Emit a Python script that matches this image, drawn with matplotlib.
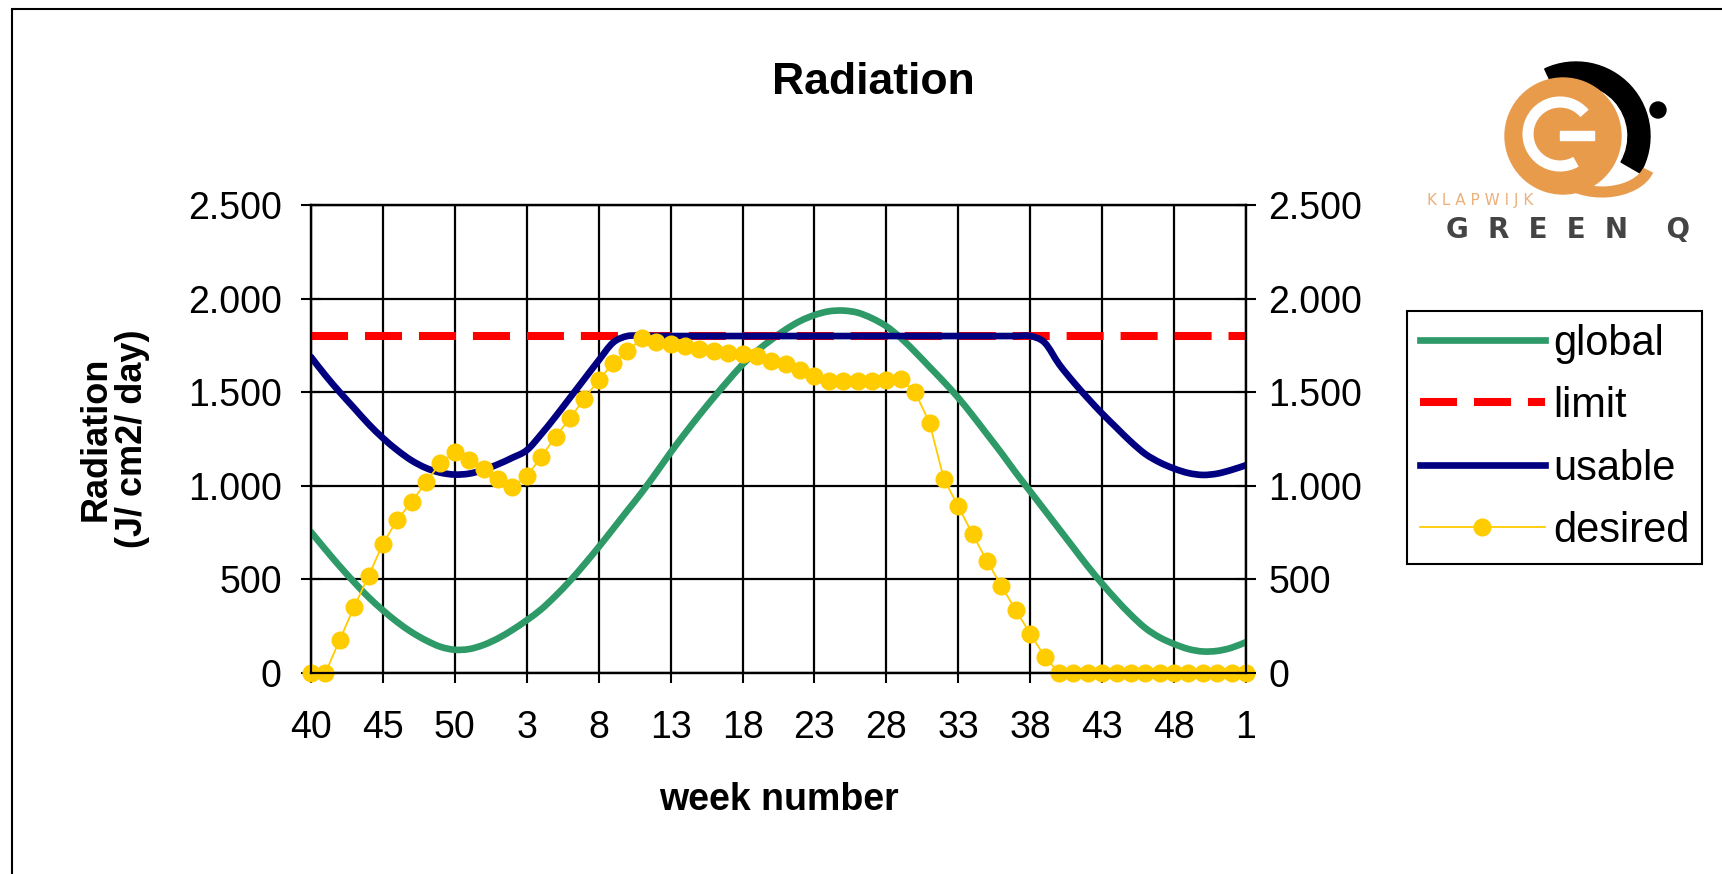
import numpy as np
import matplotlib
matplotlib.use("Agg")
import matplotlib.pyplot as plt
from matplotlib.patches import Circle, Wedge, Rectangle, Arc, PathPatch
from matplotlib.path import Path
from matplotlib.ticker import FuncFormatter

plt.rcParams['font.family'] = ['Liberation Sans', 'DejaVu Sans']

# week numbers, from week 40 through the next year to week 1
weeks = list(range(40, 53)) + list(range(1, 53)) + [1]

global_rad = [753, 660, 570, 485, 405, 335, 272, 218, 174, 140,
              124, 128, 150, 185, 230, 282, 340, 412, 492, 580,
              673, 770, 868, 965, 1070, 1178, 1280, 1378, 1472, 1562,
              1648, 1720, 1780, 1835, 1880, 1912, 1932, 1936, 1925, 1895,
              1852, 1790, 1715, 1635, 1555, 1470, 1375, 1275, 1175, 1070,
              970, 870, 770, 670, 570, 477, 390, 310, 240, 190,
              155, 128, 115, 118, 135, 165]

limit_value = 1800
limit = [limit_value] * len(weeks)

usable = [1688, 1590, 1500, 1415, 1330, 1255, 1190, 1135, 1095, 1070,
          1060, 1065, 1085, 1115, 1150, 1190, 1275, 1370, 1470, 1570,
          1670, 1765, 1800, 1800, 1800, 1800, 1800, 1800, 1800, 1800,
          1800, 1800, 1800, 1800, 1800, 1800, 1800, 1800, 1800, 1800,
          1800, 1800, 1800, 1800, 1800, 1800, 1800, 1800, 1800, 1800,
          1800, 1765, 1650, 1555, 1468, 1386, 1310, 1235, 1170, 1125,
          1092, 1068, 1058, 1065, 1085, 1110]

desired = [0, 0, 178, 353, 518, 691, 819, 914, 1020, 1122,
           1181, 1136, 1092, 1038, 994, 1051, 1154, 1262, 1360, 1466,
           1564, 1655, 1720, 1788, 1770, 1760, 1748, 1732, 1722, 1712,
           1704, 1695, 1668, 1648, 1620, 1585, 1562, 1560, 1560, 1560,
           1565, 1570, 1500, 1336, 1035, 890, 740, 598, 465, 335,
           210, 88, 0, 0, 0, 0, 0, 0, 0, 0,
           0, 0, 0, 0, 0, 0]

yticks = [0, 500, 1000, 1500, 2000, 2500]


# smoothed line like the spreadsheet draws it (bezier through the points)
def smooth_path(xs, ys):
    pts = np.column_stack([xs, ys]).astype(float)
    n = len(pts)
    verts = [pts[0]]
    codes = [Path.MOVETO]
    for k in range(n - 1):
        p0 = pts[k - 1] if k > 0 else pts[k]
        p1 = pts[k]
        p2 = pts[k + 1]
        p3 = pts[k + 2] if k + 2 < n else pts[k + 1]
        verts += [p1 + (p2 - p0) / 6, p2 - (p3 - p1) / 6, p2]
        codes += [Path.CURVE4] * 3
    return Path(verts, codes)


W, H = 1722, 874
fig = plt.figure(figsize=(W / 100, H / 100), dpi=100)
fig.patch.set_facecolor('white')

ax = fig.add_axes([311 / W, 1 - 673 / H, 935 / W, 468 / H])
x = np.arange(len(weeks))

green = '#2E9A68'
navy = '#000080'
ax.add_patch(PathPatch(smooth_path(x, global_rad), fill=False, ec=green, lw=4.8,
                       capstyle='round', joinstyle='round', zorder=3))
ax.add_patch(PathPatch(smooth_path(x, usable), fill=False, ec=navy, lw=4.8,
                       capstyle='round', joinstyle='round', zorder=4))
ax.plot([], [], color=green, lw=4.8, label='global')
ax.plot(x, limit, color='#FF0000', lw=5.8, dashes=(4.6, 2.1), label='limit', zorder=3)
ax.plot([], [], color=navy, lw=4.8, label='usable')
ax.plot(x, desired, color='#FFCC00', lw=1.3, marker='o', ms=12, mec='#FFCC00',
        label='desired', zorder=5, clip_on=False)

ax.set_xlim(0, len(weeks) - 1)
ax.set_ylim(0, 2500)
ax.set_xticks(x[::5])
ax.set_xticklabels([str(w) for w in weeks[::5]])
ax.set_yticks(yticks)
dotfmt = FuncFormatter(lambda v, p: f"{v:,.0f}".replace(",", "."))
ax.yaxis.set_major_formatter(dotfmt)
ax.grid(True, color='black', lw=1.6)
for s in ax.spines.values():
    s.set_linewidth(1.6)

ax.tick_params(axis='y', direction='inout', length=14, width=1.5, labelsize=27, pad=14)
ax.tick_params(axis='x', direction='out', length=7, width=1.5, labelsize=27, pad=20)

ax.set_xlabel('week number', fontsize=27, fontweight='bold')
ax.xaxis.set_label_coords(0.5, -0.232)
ax.set_ylabel('Radiation\n(J/ cm2/ day)', fontsize=26, fontweight='bold', linespacing=1.05)
ax.yaxis.set_label_coords(-0.172, 0.5)

# right hand axis with the same scale
ax2 = ax.twinx()
ax2.set_ylim(0, 2500)
ax2.set_yticks(yticks)
ax2.yaxis.set_major_formatter(dotfmt)
ax2.tick_params(axis='y', direction='inout', length=14, width=1.5, labelsize=27, pad=9)
for s in ax2.spines.values():
    s.set_linewidth(1.6)

leg = ax.legend(loc='upper left', bbox_to_anchor=(1407 / W, 1 - 311 / H),
                bbox_transform=fig.transFigure, fontsize=30, frameon=True,
                fancybox=False, edgecolor='black', framealpha=1,
                handlelength=3.0, handletextpad=0.2, labelspacing=0.54,
                borderpad=0.3, borderaxespad=0)
leg.get_frame().set_linewidth(1.5)

fig.text(873 / W, 1 - 82 / H, 'Radiation', ha='center', va='center',
         fontsize=32, fontweight='bold')

# overlay in pixel coordinates for the outer frame and the logo
ov = fig.add_axes([0, 0, 1, 1])
ov.set_xlim(0, W)
ov.set_ylim(0, H)
ov.set_axis_off()
ov.patch.set_alpha(0)
ov.add_patch(Rectangle((12, -50), 2000, H - 9 + 50, fill=False, ec='black', lw=1.5))

orange = '#E99B4C'
ov.add_patch(Wedge((1576, H - 136), 74, -30, 115, width=22, color='black'))
ov.add_patch(Circle((1563, H - 136), 58, color=orange))
ov.add_patch(Arc((1560, H - 134), 64, 64, theta1=40, theta2=300, lw=8, color='white'))
ov.add_patch(Rectangle((1560, H - 140), 34, 9, color='white'))
ov.add_patch(Arc((1602, H - 162), 96, 60, theta1=200, theta2=350, lw=8, color=orange))
ov.add_patch(Circle((1658, H - 110), 8, color='black'))
ov.text(1427, H - 200, 'K L A P W I J K', color='#EDB07A', fontsize=11,
        family='DejaVu Sans', ha='left', va='center')
ov.text(1446, H - 230, 'G  R  E  E  N    Q', color='#444444', fontsize=20,
        fontweight='bold', family='DejaVu Sans', ha='left', va='center')

fig.savefig('out.png', dpi=100)
